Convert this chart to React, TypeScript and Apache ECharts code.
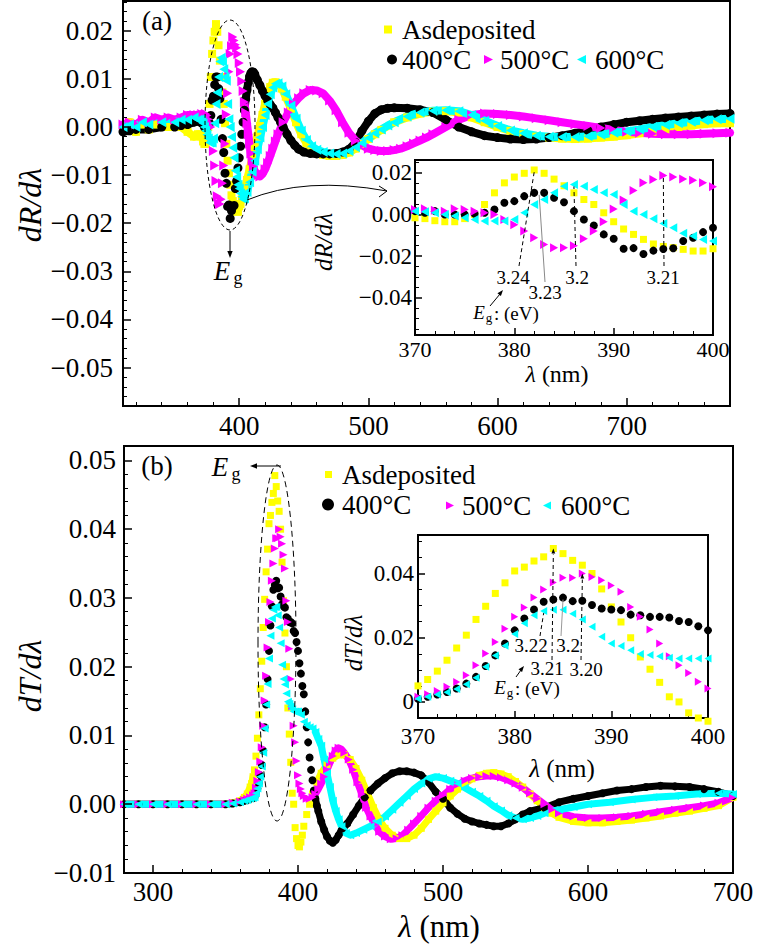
import React, { useEffect, useRef } from 'react';
import * as echarts from 'echarts';

type P = [number, number];
const FONT = '"Liberation Serif", "Times New Roman", serif';

// ---------- panel (a): dR/dλ ----------
const dR_asdeposited: P[] = [
  [310,0],[315,0.001],[320,-0.001],[325,0.0005],[330,-0.0005],[335,0.0005],[340,0.0005],[345,0],[350,0.001],[355,0],[360,-0.001],[365,-0.002],[368,-0.0015],
  [370,-0.0016],[371,-0.002],[372,-0.003],[373,-0.0035],[374,-0.0035],[375,-0.002],[376,0],[377,0.0048],[378,0.0104],[379,0.0152],[380,0.018],[381,0.0198],[382,0.0214],[383,0.0198],[384,0.017],[385,0.0138],[386,0.0104],[387,0.0072],[388,0.0048],[389,0.0008],[390,-0.0035],[391,-0.007],[392,-0.0096],[393,-0.012],[394,-0.0142],[395,-0.0154],[396,-0.016],[397,-0.0168],[398,-0.0176],[399,-0.0176],[400,-0.0165],
  [401,-0.016],[402,-0.015],[404,-0.013],[406,-0.011],[408,-0.0088],[410,-0.0065],[412,-0.0042],[414,-0.002],[416,0.0002],[418,0.0025],[420,0.0048],[422,0.0068],[424,0.0083],[426,0.0092],[428,0.0093],[430,0.009],[433,0.008],[436,0.0063],[440,0.0038],[444,0.001],[448,-0.0015],[452,-0.0033],[456,-0.0045],[460,-0.0053],[465,-0.0058],[470,-0.006],[475,-0.006],[480,-0.0058],[485,-0.0053],[490,-0.0045],[495,-0.0035],[500,-0.0025],[505,-0.0015],[510,-0.0006],[520,0.001],[530,0.002],[540,0.0028],[550,0.0032],[560,0.0033],[570,0.003],[580,0.002],[590,0.001],[600,0],[610,-0.0008],[620,-0.0015],[630,-0.002],[640,-0.0022],[650,-0.0024],[660,-0.0025],[670,-0.0024],[680,-0.0022],[690,-0.002],[700,-0.0017],[710,-0.0013],[720,-0.001],[730,-0.0005],[740,0],[750,0.0003],[760,0.0006],[770,0.0008],[780,0.0008]
];
const dR_400C: P[] = [
  [310,-0.001],[315,-0.0008],[320,-0.0005],[330,-0.0005],[340,0],[350,0],[355,0.0003],[360,0.0005],[365,0.001],[368,0.0012],
  [370,0.0016],[371,0.0008],[372,0.0016],[373,0],[374,0],[375,0],[376,0.0003],[377,0.0008],[378,0.0024],[379,0.0056],[380,0.0064],[381,0.0088],[382,0.0104],[383,0.0104],[384,0.008],[385,0.0059],[386,0.0016],[387,-0.0024],[388,-0.0053],[389,-0.0096],[390,-0.0117],[391,-0.0165],[392,-0.0162],[393,-0.019],[394,-0.0174],[395,-0.0166],[396,-0.0163],[397,-0.0128],[398,-0.0112],[399,-0.0085],[400,-0.0064],
  [401,-0.004],[402,-0.0015],[403,0.001],[404,0.0035],[405,0.0058],[406,0.0077],[407,0.0093],[408,0.0105],[409,0.0112],[410,0.0115],[411,0.0114],[412,0.011],[414,0.0098],[416,0.0087],[418,0.0075],[420,0.0065],[422,0.0055],[424,0.0047],[426,0.004],[428,0.003],[430,0.002],[432,0.001],[434,0],[437,-0.0015],[440,-0.0028],[443,-0.0038],[446,-0.0046],[450,-0.0052],[455,-0.0055],[460,-0.0056],[465,-0.0056],[470,-0.0056],[475,-0.0055],[480,-0.0052],[485,-0.0046],[490,-0.0032],[495,-0.0008],[500,0.0012],[505,0.0028],[510,0.0036],[515,0.0039],[520,0.004],[530,0.0039],[540,0.0036],[550,0.003],[560,0.0015],[570,0],[580,-0.001],[590,-0.0018],[600,-0.0022],[610,-0.0025],[620,-0.0026],[630,-0.0025],[640,-0.0022],[650,-0.0018],[660,-0.0013],[670,-0.0007],[680,0],[690,0.0005],[700,0.001],[710,0.0013],[720,0.0016],[730,0.0019],[740,0.0021],[750,0.0023],[760,0.0025],[770,0.0027],[780,0.0028]
];
const dR_500C: P[] = [
  [310,0.0005],[315,0.001],[320,0.0005],[325,0.0015],[330,0.001],[335,0.002],[340,0.0015],[345,0.002],[350,0.0015],[355,0.002],[360,0.0025],[365,0.0025],[368,0.0025],
  [370,0.0024],[371,0.0027],[372,0.002],[373,0.0016],[374,0.0027],[375,0.0024],[376,0.0016],[377,0.0008],[378,0],[379,-0.0024],[380,-0.005],[381,-0.008],[382,-0.0112],[383,-0.0144],[384,-0.016],[385,-0.016],[386,-0.015],[387,-0.0117],[388,-0.008],[389,-0.0035],[390,0.0026],[391,0.007],[392,0.0115],[393,0.0152],[394,0.0168],[395,0.0187],[396,0.018],[397,0.0171],[398,0.0165],[399,0.0152],[400,0.0133],
  [401,0.0115],[402,0.0095],[403,0.0075],[404,0.0052],[405,0.003],[406,0.0008],[407,-0.0015],[408,-0.0035],[409,-0.0055],[410,-0.007],[411,-0.0082],[412,-0.0092],[414,-0.0101],[416,-0.0103],[418,-0.0098],[420,-0.0088],[422,-0.0075],[424,-0.006],[426,-0.0045],[428,-0.003],[430,-0.0015],[434,0.001],[438,0.003],[442,0.0048],[446,0.006],[450,0.007],[455,0.0077],[460,0.0076],[465,0.007],[470,0.0055],[475,0.0035],[480,0.001],[485,-0.0012],[490,-0.0028],[495,-0.0038],[500,-0.0045],[505,-0.0048],[510,-0.005],[515,-0.005],[520,-0.0048],[525,-0.0045],[530,-0.004],[535,-0.0034],[540,-0.0028],[545,-0.0022],[550,-0.0015],[560,0],[570,0.0015],[580,0.0025],[590,0.0028],[600,0.0027],[610,0.0025],[620,0.0022],[630,0.0018],[640,0.0014],[650,0.001],[660,0.0006],[670,0.0002],[680,-0.0002],[690,-0.0006],[700,-0.001],[710,-0.0012],[720,-0.0014],[730,-0.0015],[740,-0.0015],[750,-0.0015],[760,-0.0014],[770,-0.0013],[780,-0.0012]
];
const dR_600C: P[] = [
  [310,0],[315,0.0005],[320,0],[325,0.001],[330,0.0005],[340,0.001],[350,0.001],[355,0.0015],[360,0.0015],[365,0.002],[368,0.0015],
  [370,0.0016],[371,0.0013],[372,0.0008],[373,0],[374,-0.0008],[375,-0.0016],[376,-0.0024],[377,-0.0032],[378,-0.0032],[379,-0.0032],[380,-0.0024],[381,0.0008],[382,0.0048],[383,0.0072],[384,0.0104],[385,0.0136],[386,0.0144],[387,0.0136],[388,0.012],[389,0.0104],[390,0.0096],[391,0.0048],[392,0.0016],[393,0],[394,-0.0021],[395,-0.0043],[396,-0.0064],[397,-0.0091],[398,-0.0104],[399,-0.012],[400,-0.0128],
  [401,-0.0138],[402,-0.0145],[403,-0.015],[404,-0.0148],[406,-0.0135],[408,-0.0115],[410,-0.0093],[412,-0.007],[414,-0.0046],[416,-0.0022],[418,0],[420,0.0025],[422,0.0048],[424,0.0068],[426,0.0082],[428,0.009],[430,0.0091],[433,0.0084],[436,0.0068],[440,0.0044],[444,0.0017],[448,-0.0008],[452,-0.0027],[456,-0.004],[460,-0.0047],[465,-0.0052],[470,-0.0055],[475,-0.0056],[480,-0.0055],[485,-0.005],[490,-0.0042],[495,-0.0033],[500,-0.0023],[505,-0.0013],[510,-0.0005],[515,0.0003],[520,0.001],[530,0.0022],[540,0.003],[550,0.0034],[560,0.0035],[570,0.0033],[580,0.0025],[590,0.0013],[600,0.0002],[610,-0.0007],[620,-0.0013],[630,-0.0018],[640,-0.002],[650,-0.0021],[660,-0.0021],[670,-0.0019],[680,-0.0016],[690,-0.0012],[700,-0.0009],[710,-0.0005],[720,0],[730,0.0004],[740,0.0008],[750,0.0011],[760,0.0014],[770,0.0016],[780,0.0017]
];

// ---------- panel (b): dT/dλ ----------
const dT_asdeposited: P[] = [
  [280,0],[290,0],[300,0],[310,0],[320,0],[330,0],[340,0],[350,0],[355,0.0002],[360,0.0005],[363,0.001],[365,0.0015],[367,0.0025],[368,0.003],[369,0.004],
  [370,0.005],[371,0.007],[372,0.0096],[373,0.013],[374,0.0168],[375,0.0208],[376,0.0257],[377,0.0298],[378,0.0338],[379,0.0371],[380,0.0408],[381,0.042],[382,0.0439],[383,0.0452],[384,0.0478],[385,0.0462],[386,0.0441],[387,0.0426],[388,0.04],[389,0.0352],[390,0.0296],[391,0.0249],[392,0.02],[393,0.014],[394,0.0102],[395,0.0061],[396,0.0016],[397,0],[398,-0.0034],
  [399,-0.005],[400,-0.006],[401,-0.0062],[402,-0.0055],[403,-0.0045],[404,-0.0032],[406,-0.0015],[408,0],[410,0.0015],[413,0.0032],[416,0.0045],[420,0.0058],[424,0.0067],[428,0.0072],[432,0.0072],[436,0.0065],[440,0.0052],[444,0.0035],[448,0.0015],[452,-0.0005],[456,-0.0022],[460,-0.0035],[465,-0.0045],[470,-0.005],[475,-0.005],[480,-0.0045],[485,-0.0035],[490,-0.0022],[495,-0.001],[500,0.0002],[505,0.0012],[510,0.0022],[515,0.003],[520,0.0037],[525,0.0042],[530,0.0045],[535,0.0046],[540,0.0044],[545,0.004],[550,0.0033],[555,0.0025],[560,0.0015],[565,0.0005],[570,-0.0005],[575,-0.0013],[580,-0.0019],[590,-0.0025],[600,-0.0027],[610,-0.0027],[620,-0.0025],[630,-0.0023],[640,-0.002],[650,-0.0017],[660,-0.0013],[670,-0.001],[680,-0.0006],[690,-0.0002],[700,0.001]
];
const dT_400C: P[] = [
  [280,0],[290,0],[300,0],[310,0],[320,0],[330,0],[340,0],[350,0],[355,0.0001],[360,0.0003],[363,0.0005],[365,0.0006],[367,0.0008],[369,0.0009],
  [370,0.001],[371,0.0016],[372,0.0023],[373,0.0031],[374,0.0042],[375,0.0057],[376,0.0078],[377,0.0112],[378,0.0145],[379,0.0182],[380,0.0223],[381,0.026],[382,0.0288],[383,0.0312],[384,0.0319],[385,0.0325],[386,0.0314],[387,0.0315],[388,0.0302],[389,0.0291],[390,0.0288],[391,0.0286],[392,0.0272],[393,0.027],[394,0.0265],[395,0.0265],[396,0.0263],[397,0.0252],[398,0.0249],[399,0.0236],[400,0.0223],
  [401,0.0205],[402,0.019],[403,0.0172],[404,0.016],[405,0.0135],[406,0.0112],[407,0.009],[408,0.0068],[409,0.005],[410,0.0035],[411,0.002],[412,0.0008],[413,-0.0002],[414,-0.001],[416,-0.0025],[418,-0.0037],[420,-0.0047],[422,-0.0053],[424,-0.0056],[426,-0.0052],[428,-0.0045],[430,-0.0038],[434,-0.0028],[438,-0.0015],[442,-0.0002],[446,0.001],[450,0.002],[455,0.003],[460,0.0038],[465,0.0045],[470,0.0048],[475,0.0048],[480,0.0046],[485,0.0042],[490,0.0032],[495,0.0018],[500,0.0008],[505,-0.0005],[510,-0.0014],[515,-0.0021],[520,-0.0025],[525,-0.0028],[530,-0.003],[535,-0.0032],[540,-0.0032],[545,-0.0028],[550,-0.0022],[555,-0.0015],[560,-0.001],[570,-0.0005],[580,0.0003],[590,0.0008],[600,0.0012],[610,0.0016],[620,0.002],[630,0.0022],[640,0.0025],[650,0.0027],[660,0.0026],[670,0.0025],[680,0.0022],[690,0.0018],[700,0.0012]
];
const dT_500C: P[] = [
  [280,0],[290,0],[300,0],[310,0],[320,0],[330,0],[340,0],[350,0],[355,0.0002],[360,0.0004],[363,0.0006],[365,0.0008],[367,0.001],[369,0.0013],
  [370,0.0016],[371,0.0024],[372,0.0034],[373,0.0047],[374,0.0062],[375,0.0083],[376,0.0114],[377,0.0151],[378,0.0187],[379,0.0228],[380,0.0265],[381,0.0294],[382,0.0325],[383,0.035],[384,0.0372],[385,0.0387],[386,0.0387],[387,0.04],[388,0.0389],[389,0.0379],[390,0.0363],[391,0.0343],[392,0.0296],[393,0.0265],[394,0.0226],[395,0.0182],[396,0.0142],[397,0.0114],[398,0.009],[399,0.0063],[400,0.0042],
  [401,0.003],[402,0.0022],[403,0.0016],[404,0.0012],[406,0.0008],[408,0.0008],[410,0.001],[412,0.0015],[414,0.0022],[416,0.003],[418,0.004],[420,0.005],[422,0.006],[424,0.007],[426,0.0078],[428,0.0082],[430,0.008],[432,0.0075],[435,0.0065],[438,0.005],[441,0.0032],[444,0.0015],[447,-0.0005],[450,-0.0018],[453,-0.003],[456,-0.004],[460,-0.0047],[464,-0.0051],[468,-0.005],[472,-0.0045],[476,-0.0037],[480,-0.0028],[485,-0.0017],[490,-0.0005],[495,0.0005],[500,0.0013],[505,0.0022],[510,0.0028],[515,0.0034],[520,0.0038],[525,0.004],[530,0.0041],[535,0.0041],[540,0.0039],[545,0.0035],[550,0.003],[555,0.0024],[560,0.0016],[565,0.0008],[570,0],[575,-0.0008],[580,-0.0013],[590,-0.0018],[600,-0.002],[610,-0.002],[620,-0.0019],[630,-0.0017],[640,-0.0014],[650,-0.0011],[660,-0.0008],[670,-0.0005],[680,-0.0002],[690,0.0002],[700,0.001]
];
const dT_600C: P[] = [
  [280,0],[290,0],[300,0],[310,0],[320,0],[330,0],[340,0],[350,0],[355,0.0001],[360,0.0003],[363,0.0005],[365,0.0006],[367,0.0008],[369,0.0009],
  [370,0.001],[371,0.0016],[372,0.0023],[373,0.003],[374,0.004],[375,0.0055],[376,0.0075],[377,0.011],[378,0.0145],[379,0.0175],[380,0.0212],[381,0.0245],[382,0.027],[383,0.0283],[384,0.0287],[385,0.0287],[386,0.0275],[387,0.0257],[388,0.0234],[389,0.0203],[390,0.0182],[391,0.0174],[392,0.0161],[393,0.0149],[394,0.0146],[395,0.0142],[396,0.0138],[397,0.0135],[398,0.0135],[399,0.0135],[400,0.0135],
  [402,0.013],[404,0.012],[406,0.0115],[408,0.0112],[410,0.011],[412,0.0105],[414,0.0095],[416,0.0085],[418,0.0065],[420,0.0045],[422,0.0025],[424,0.0005],[426,-0.001],[428,-0.0022],[430,-0.0032],[433,-0.0042],[436,-0.0045],[440,-0.0042],[445,-0.0037],[450,-0.0032],[455,-0.0025],[460,-0.0018],[465,-0.0008],[470,0.0002],[475,0.0012],[480,0.0022],[485,0.003],[490,0.0037],[495,0.004],[500,0.0038],[505,0.0034],[510,0.003],[515,0.0024],[520,0.0018],[525,0.0012],[530,0.0005],[535,-0.0003],[540,-0.0009],[545,-0.0016],[550,-0.002],[555,-0.0022],[560,-0.002],[565,-0.0017],[570,-0.0013],[580,-0.0008],[590,-0.0004],[600,0],[615,0.0003],[630,0.0007],[645,0.001],[660,0.0012],[675,0.0015],[690,0.0016],[700,0.0015]
];

const NAMES = ['Asdeposited', '400°C', '500°C', '600°C'];
const COLORS = ['#ffff00', '#000000', '#ff00ff', '#00ffff'];

// tick labels
const aXTicks = [400, 500, 600, 700];
const aYTicks = [-0.05, -0.04, -0.03, -0.02, -0.01, 0, 0.01, 0.02];
const bXTicks = [300, 400, 500, 600, 700];
const bYTicks = [-0.01, 0, 0.01, 0.02, 0.03, 0.04, 0.05];
const insetXTicks = [370, 380, 390, 400];
const aInsetYTicks = [-0.04, -0.02, 0, 0.02];
const bInsetYTicks = [0, 0.02, 0.04];

// band-gap annotations
const aPeakLambda = [382, 382.5, 386, 395];
const aPeakValue = [0.0214, 0.0104, 0.0144, 0.0187];
const aPeakLabel = ['3.24', '3.23', '3.2', '3.21'];
const bPeakLambda = [383, 384, 385, 387];
const bPeakValue = [0.0283, 0.0478, 0.0325, 0.04];
const bPeakLabel = ['3.22', '3.21', '3.2', '3.20'];

const TRI_R = 'path://M0,0L10,5L0,10Z';
const TRI_L = 'path://M10,0L0,5L10,10Z';
const SYMBOLS = ['rect', 'circle', TRI_R, TRI_L];

const A_GRID = { left: 123, top: 1, width: 607, height: 405, x: [310, 780], y: [-0.058, 0.0262] };
const A_IN = { left: 415, top: 160, width: 298, height: 175, x: [370, 400], y: [-0.058, 0.0262] };
const B_GRID = { left: 124, top: 446, width: 609, height: 427, x: [280, 700], y: [-0.01, 0.0521] };
const B_IN = { left: 418, top: 535, width: 290, height: 183, x: [370, 400], y: [-0.005, 0.052] };

function toPx(g: any, x: number, y: number): [number, number] {
  return [
    g.left + ((x - g.x[0]) / (g.x[1] - g.x[0])) * g.width,
    g.top + ((g.y[1] - y) / (g.y[1] - g.y[0])) * g.height,
  ];
}

function minors(from: number, to: number, step: number, every: number): number[] {
  const out: number[] = [];
  for (let k = from; k <= to; k++) if (k % every !== 0) out.push(+(k * step).toFixed(6));
  return out;
}

const fmtA = (v: number) => (v < -1e-9 ? '−' : '') + Math.abs(v).toFixed(2);
const fmtBIn = (v: number) => (Math.abs(v) < 1e-9 ? '0' : v.toFixed(2));

function axisPair(kind: 'x' | 'y', gridIndex: number, range: number[], majors: number[], minorVals: number[], fontSize: number, margin: number, fmt: any, z: number, majorLen = 8, minorLen = 4) {
  const pos = kind === 'x' ? 'bottom' : 'left';
  const major = {
    type: 'value', gridIndex, min: range[0], max: range[1], position: pos, z,
    axisLine: { show: true, onZero: false, lineStyle: { color: '#000', width: 2 } },
    axisTick: { show: true, inside: true, length: majorLen, lineStyle: { color: '#000', width: 1.5 }, customValues: majors },
    axisLabel: { show: true, customValues: majors, fontSize, fontFamily: FONT, color: '#000', margin, formatter: fmt },
    splitLine: { show: false },
  };
  const minor = {
    type: 'value', gridIndex, min: range[0], max: range[1], position: pos, z,
    axisLine: { show: false, onZero: false },
    axisTick: { show: true, inside: true, length: minorLen, lineStyle: { color: '#000', width: 1 }, customValues: minorVals },
    axisLabel: { show: false },
    splitLine: { show: false },
  };
  return [major, minor];
}

function mainSeries(data: P[][], axisIndex: number, sizes: any[], bandW: number, win: [number, number]) {
  const out: any[] = [];
  data.forEach((pts, i) => {
    out.push({
      type: 'line', name: NAMES[i], xAxisIndex: axisIndex, yAxisIndex: axisIndex,
      data: pts.map((p) => (p[0] > win[0] && p[0] < win[1] ? [p[0], '-'] : p)),
      showSymbol: false, symbol: 'none', connectNulls: false, clip: false, silent: true,
      lineStyle: { color: COLORS[i], width: bandW, cap: 'round', join: 'round' },
      itemStyle: { color: COLORS[i] }, z: 2,
    });
    out.push({
      type: 'scatter', name: NAMES[i], xAxisIndex: axisIndex, yAxisIndex: axisIndex,
      data: pts, symbol: SYMBOLS[i], symbolSize: sizes[i], clip: false, silent: true,
      itemStyle: { color: COLORS[i], opacity: 1 }, z: 2,
    });
  });
  return out;
}

function insetSeries(data: P[][], axisIndex: number, sizes: any[]) {
  return data.map((pts, i) => ({
    type: 'scatter', name: NAMES[i], xAxisIndex: axisIndex, yAxisIndex: axisIndex,
    data: pts.filter((p) => p[0] >= 370 && p[0] <= 400), symbol: SYMBOLS[i], symbolSize: sizes[i],
    clip: false, silent: true, itemStyle: { color: COLORS[i], opacity: 1 }, z: 22,
  }));
}

function legendItem(name: string, icon: string, left: number, top: number, w: number, h: number, pad: number) {
  return {
    show: true, left, top, padding: 0, itemWidth: w, itemHeight: h, selectedMode: false,
    data: [{ name, icon }],
    textStyle: { fontSize: 27, fontFamily: FONT, color: '#000', padding: [0, 0, 0, pad] },
  };
}

function txt(x: number, y: number, text: string, size: number, extra: any = {}) {
  return {
    type: 'text', x, y, z: 100, rotation: extra.rotation || 0,
    style: {
      text, fontSize: size, fontFamily: FONT, fill: extra.fill || '#000', fontStyle: extra.italic ? 'italic' : 'normal',
      align: extra.align || 'center', verticalAlign: 'middle',
    },
  };
}
function dline(x1: number, y1: number, x2: number, y2: number, color = '#000', dash: any = [4, 3]) {
  return { type: 'line', z: 100, shape: { x1, y1, x2, y2 }, style: { stroke: color, lineWidth: 1, lineDash: dash } };
}
function head(x: number, y: number, dx: number, dy: number, size = 7) {
  const len = Math.hypot(dx, dy);
  const ux = dx / len, uy = dy / len;
  const bx = x - ux * size, by = y - uy * size;
  const w = size * 0.38;
  return { type: 'polygon', z: 100, shape: { points: [[x, y], [bx - uy * w, by + ux * w], [bx + uy * w, by - ux * w]] }, style: { fill: '#000' } };
}
function lambdaTitle(x: number, y: number, size: number) {
  return { type: 'text', x, y, z: 100, style: { text: '{i|λ} (nm)', fontSize: size, fontFamily: FONT, fill: '#000', align: 'center', verticalAlign: 'middle', rich: { i: { fontStyle: 'italic', fontSize: size, fontFamily: FONT } } } };
}

function buildGraphics() {
  const g: any[] = [];
  g.push(txt(157, 21, '(a)', 27));
  g.push(txt(157, 466, '(b)', 27));
  g.push(txt(30, 205, 'dR/dλ', 32, { rotation: Math.PI / 2, italic: true }));
  g.push(txt(30, 676, 'dT/dλ', 32, { rotation: Math.PI / 2, italic: true }));
  g.push(lambdaTitle(439, 926, 31));
  g.push(txt(323, 242, 'dR/dλ', 25, { rotation: Math.PI / 2, italic: true }));
  g.push(lambdaTitle(557, 374, 24));
  g.push(txt(353, 643, 'dT/dλ', 25, { rotation: Math.PI / 2, italic: true }));
  g.push(lambdaTitle(562, 768, 25));

  // panel (a) ellipse, arrows, Eg
  g.push({ type: 'ellipse', z: 100, shape: { cx: 230, cy: 125, rx: 25, ry: 105 }, style: { fill: 'transparent', stroke: '#000', lineWidth: 1, lineDash: [4, 3] } });
  g.push(dline(230, 231, 230, 252, '#000', null));
  g.push(head(230, 258, 0, 1));
  g.push(txt(222, 271, 'E', 27, { italic: true }));
  g.push(txt(238, 278, 'g', 18));
  g.push({ type: 'bezierCurve', z: 100, shape: { x1: 247, y1: 200, cpx1: 305, cpy1: 176, x2: 387, y2: 191 }, style: { stroke: '#000', fill: 'transparent', lineWidth: 1 } });
  g.push({ type: 'polyline', z: 100, shape: { points: [[379, 186], [387, 191], [379, 197]] }, style: { stroke: '#000', fill: 'transparent', lineWidth: 1 } });

  // panel (a) inset annotations
  const aLab: [number, number][] = [[513, 277], [545, 292], [577, 277], [663, 277]];
  const aFoot: [number, number][] = [[519, 266], [545, 282], [576, 266], [664, 266]];
  aPeakLambda.forEach((lam, i) => {
    const [px, py] = toPx(A_IN, lam, aPeakValue[i]);
    g.push(dline(aFoot[i][0], aFoot[i][1], px, py + 2, i === 1 ? '#888' : '#000', i === 1 ? null : [4, 3]));
    g.push(txt(aLab[i][0], aLab[i][1], aPeakLabel[i], 19));
  });
  g.push(dline(490, 306, 500, 294, '#000', null));
  g.push(head(503, 290, 1, -1.2, 6));
  g.push(txt(479, 312, 'E', 19, { italic: true }));
  g.push(txt(489, 317, 'g', 13));
  g.push(txt(494, 313, ': (eV)', 19, { align: 'left' }));

  // panel (b) ellipse, arrow, Eg
  g.push({ type: 'ellipse', z: 100, shape: { cx: 277, cy: 643, rx: 19, ry: 178 }, style: { fill: 'transparent', stroke: '#000', lineWidth: 1, lineDash: [6, 4] } });
  g.push(dline(281, 466, 256, 466, '#000', null));
  g.push(head(250, 466, -1, 0));
  g.push(txt(220, 467, 'E', 27, { italic: true }));
  g.push(txt(236, 474, 'g', 18));

  // panel (b) inset annotations
  const bLab: [number, number][] = [[531, 645], [547, 668], [568, 645], [586, 669]];
  const bFoot: [number, number][] = [[540, 636], [552, 660], [561, 636], [581, 660]];
  bPeakLambda.forEach((lam, i) => {
    const [px, py] = toPx(B_IN, lam, bPeakValue[i]);
    const gray = i === 2;
    g.push(dline(bFoot[i][0], bFoot[i][1], px, py + (i === 1 || i === 3 ? 6 : 2), gray ? '#999' : '#000', gray ? null : [4, 3]));
    if (i === 1 || i === 3) g.push(head(px, py, 0, -1, 5));
    g.push(txt(bLab[i][0], bLab[i][1], bPeakLabel[i], 19));
  });
  g.push(dline(516, 677, 521, 670, '#000', null));
  g.push(head(524, 666, 0.8, -1, 6));
  g.push(txt(500, 687, 'E', 19, { italic: true }));
  g.push(txt(510, 692, 'g', 13));
  g.push(txt(515, 688, ': (eV)', 19, { align: 'left' }));
  return g;
}

export default function App() {
  const ref = useRef<HTMLDivElement>(null);
  useEffect(() => {
    if (!ref.current) return;
    const chart = echarts.init(ref.current, null, { renderer: 'svg' });
    const aData = [dR_asdeposited, dR_400C, dR_500C, dR_600C];
    const bData = [dT_asdeposited, dT_400C, dT_500C, dT_600C];

    const grids = [A_GRID, A_IN, B_GRID, B_IN].map((g, i) => ({
      left: g.left, top: g.top, width: g.width, height: g.height, containLabel: false, outerBoundsMode: 'none',
      show: true, backgroundColor: i % 2 === 1 ? '#ffffff' : 'transparent', borderColor: '#000', borderWidth: 2, z: i % 2 === 1 ? 20 : 0,
    }));

    const xAxes = [
      ...axisPair('x', 0, A_GRID.x, aXTicks, minors(16, 39, 20, 5), 27, 6, (v: number) => String(v), 3),
      ...axisPair('x', 1, A_IN.x, insetXTicks, minors(185, 200, 2, 5), 22, 3, (v: number) => String(v), 21, 7, 4),
      ...axisPair('x', 2, B_GRID.x, bXTicks, minors(15, 35, 20, 5), 27, 5, (v: number) => String(v), 3),
      ...axisPair('x', 3, B_IN.x, insetXTicks, minors(185, 200, 2, 5), 23, 7, (v: number) => String(v), 21, 7, 4),
    ];
    const yAxes = [
      ...axisPair('y', 0, A_GRID.y, aYTicks, minors(-29, 13, 0.002, 5), 27, 10, fmtA, 3),
      ...axisPair('y', 1, A_IN.y, aInsetYTicks, minors(-11, 5, 0.005, 4), 23, 3, fmtA, 21, 7, 4),
      ...axisPair('y', 2, B_GRID.y, bYTicks, minors(-4, 26, 0.002, 5), 27, 8, fmtA, 3),
      ...axisPair('y', 3, B_IN.y, bInsetYTicks, minors(1, 10, 0.005, 4), 23, 4, fmtBIn, 21, 7, 4),
    ];

    const series = [
      ...mainSeries(aData, 0, [8, 9, [9, 10], [9, 10]], 8, [372, 404]),
      ...insetSeries(aData, 2, [7, 8, [8, 9], [8, 9]]),
      ...mainSeries(bData, 4, [7, 8, [8, 8], [8, 8]], 7, [369, 411]),
      ...insetSeries(bData, 6, [7, 8, [7, 8], [7, 8]]),
    ];

    const legends = [
      legendItem('Asdeposited', 'rect', 384, 16, 8, 8, 5),
      legendItem('400°C', 'circle', 387, 46, 10, 10, 0),
      legendItem('500°C', TRI_R, 484, 46, 9, 10, 2),
      legendItem('600°C', TRI_L, 577, 46, 9, 10, 4),
      legendItem('Asdeposited', 'rect', 325, 461, 7, 7, 5),
      legendItem('400°C', 'circle', 322, 491, 12, 12, 3),
      legendItem('500°C', TRI_R, 446, 492, 8, 9, 3),
      legendItem('600°C', TRI_L, 543, 492, 8, 9, 5),
    ];

    chart.setOption({
      animation: false,
      backgroundColor: '#ffffff',
      textStyle: { fontFamily: FONT },
      grid: grids,
      xAxis: xAxes,
      yAxis: yAxes,
      legend: legends,
      series,
      graphic: buildGraphics(),
    });
    return () => chart.dispose();
  }, []);
  return <div ref={ref} style={{ position: 'fixed', left: 0, top: 0, width: 767, height: 946, background: '#fff' }} />;
}
